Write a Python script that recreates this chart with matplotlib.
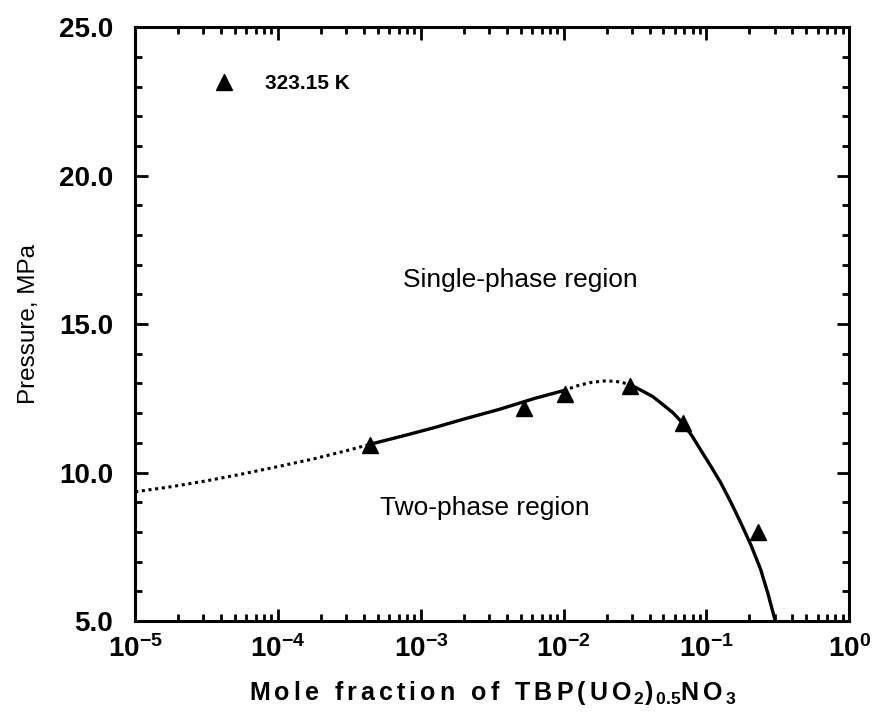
# Phase boundary of TBP(UO2)0.5NO3 in CO2 at 323.15 K

import matplotlib.pyplot as plt

plt.rcParams['font.family'] = ['Liberation Sans', 'DejaVu Sans']
plt.rcParams['mathtext.fontset'] = 'custom'
plt.rcParams['mathtext.rm'] = 'Liberation Sans'
plt.rcParams['mathtext.bf'] = 'Liberation Sans:bold'

# measured points
x_data = [4.4e-4, 5.3e-3, 1.02e-2, 2.92e-2, 6.9e-2, 0.23]
p_data = [10.94, 12.16, 12.66, 12.9, 11.68, 7.98]

# fitted curve, split into dotted (extrapolated) and solid parts
x_low = [1e-5, 1.78e-5, 3.16e-5, 5.62e-5, 1e-4, 1.78e-4, 3.16e-4, 4.4e-4]
p_low = [9.35, 9.52, 9.72, 9.95, 10.2, 10.46, 10.76, 10.95]
x_mid = [4.4e-4, 7.9e-4, 1.26e-3, 2.0e-3, 3.5e-3, 6.3e-3, 1.0e-2]
p_mid = [10.95, 11.26, 11.52, 11.8, 12.12, 12.5, 12.76]
x_top = [1.0e-2, 1.26e-2, 1.58e-2, 2.0e-2, 2.5e-2, 2.95e-2]
p_top = [12.76, 12.93, 13.04, 13.09, 13.05, 12.95]
x_high = [2.95e-2, 3.55e-2, 4.2e-2, 4.8e-2, 5.8e-2, 6.8e-2, 7.9e-2, 9.1e-2,
          0.107, 0.126, 0.148, 0.174, 0.205, 0.24, 0.27, 0.303]
p_high = [12.95, 12.75, 12.56, 12.34, 12.02, 11.67, 11.24, 10.76,
          10.22, 9.65, 9.0, 8.3, 7.55, 6.72, 5.9, 5.0]


def spaced(s, gap=r'\,'):
    # wide letter spacing like the original typesetting
    out = []
    for ch in s:
        out.append(r'\ ' if ch == ' ' else ch)
    return gap.join(out)


fig, ax = plt.subplots(figsize=(8.72, 7.17), dpi=100)
fig.subplots_adjust(left=0.155, right=0.974, top=0.962, bottom=0.134)

dots = (0, (1, 1.2))
ax.plot(x_low, p_low, color='black', lw=2.2, ls=dots)
ax.plot(x_mid, p_mid, color='black', lw=2.4)
ax.plot(x_top, p_top, color='black', lw=2.2, ls=dots)
ax.plot(x_high, p_high, color='black', lw=2.4)
ax.plot(x_data, p_data, ls='none', marker='^', ms=12, color='black',
        label='323.15 K')

ax.set_xscale('log')
ax.set_xlim(1e-5, 1)
ax.set_ylim(5, 25)

ax.set_xticks([1e-5, 1e-4, 1e-3, 1e-2, 1e-1, 1])
ax.set_xticklabels([r'$\mathbf{10^{%d}}$' % e for e in range(-5, 1)],
                   fontsize=20)
ax.set_yticks([5, 10, 15, 20, 25])
ax.set_yticks(range(5, 26), minor=True)
ax.set_yticklabels(['%.1f' % v for v in [5, 10, 15, 20, 25]],
                   fontsize=20, fontweight='bold')

ax.tick_params(which='both', direction='in', top=True, right=True, width=2)
ax.tick_params(which='major', length=9)
ax.tick_params(which='minor', length=5)
ax.tick_params(axis='y', pad=16)
ax.tick_params(axis='x', pad=10)
for s in ax.spines.values():
    s.set_linewidth(2.2)

ax.set_ylabel('Pressure, MPa', fontsize=17.5)
ax.yaxis.set_label_coords(-0.133, 0.5)
label = r'$\mathbf{' + spaced('Mole fraction of TBP(UO') + r'_{\,2}' + \
    spaced(')') + r'_{\,0.5}' + spaced('NO') + r'_{\,3}}$'
ax.set_xlabel(label, fontsize=18, labelpad=12)

ax.text(0.54, 0.575, 'Single-phase region', transform=ax.transAxes,
        fontsize=19, ha='center', va='center')
ax.text(0.49, 0.19, 'Two-phase region', transform=ax.transAxes,
        fontsize=19, ha='center', va='center')

ax.legend(loc='upper left', bbox_to_anchor=(0.08, 0.952), frameon=False,
          handlelength=1.2, handletextpad=1.4,
          prop={'weight': 'bold', 'size': 15})

fig.savefig('out.png', dpi=100)
